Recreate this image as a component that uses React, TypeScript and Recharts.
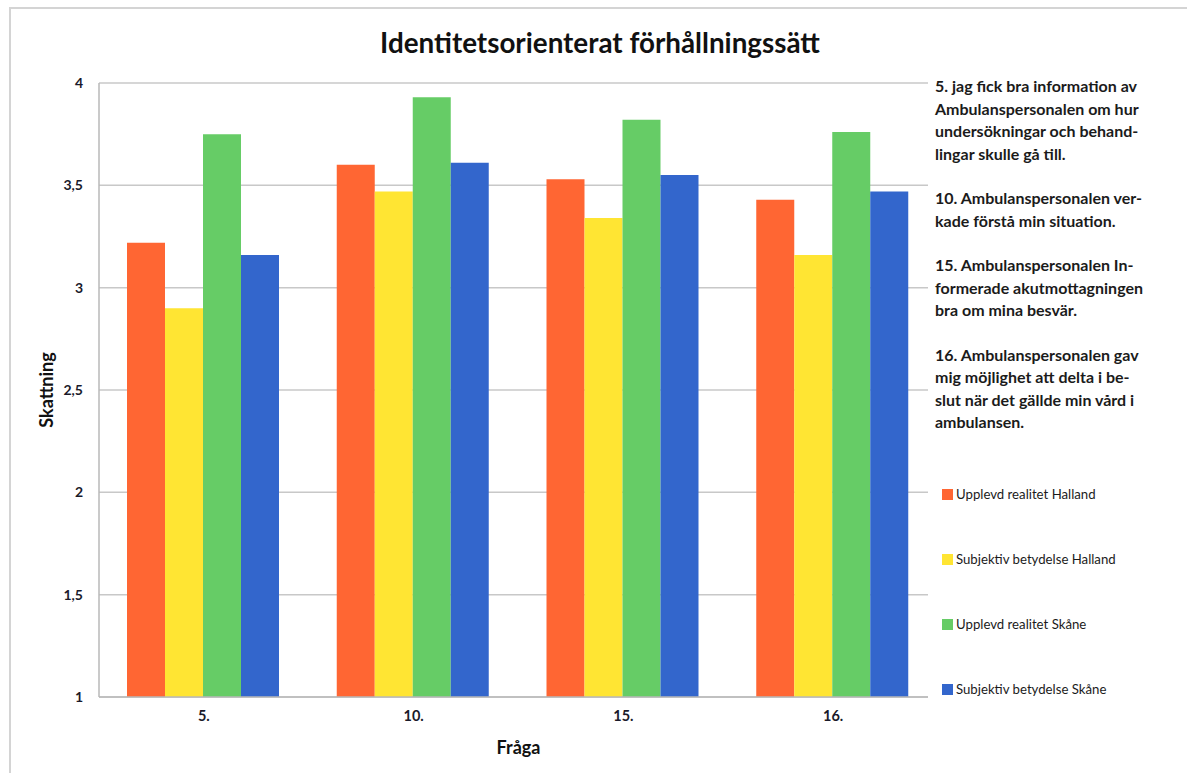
import React from "react";
import { BarChart, Bar, XAxis, YAxis, CartesianGrid, Legend, Label } from "recharts";

const questions = ["5.", "10.", "15.", "16."];
const upplevdHalland = [3.22, 3.6, 3.53, 3.43];
const subjektivHalland = [2.9, 3.47, 3.34, 3.16];
const upplevdSkane = [3.75, 3.93, 3.82, 3.76];
const subjektivSkane = [3.16, 3.61, 3.55, 3.47];
const yTicks = [1, 1.5, 2, 2.5, 3, 3.5, 4];

const seriesNames = [
  "Upplevd realitet Halland",
  "Subjektiv betydelse Halland",
  "Upplevd realitet Skåne",
  "Subjektiv betydelse Skåne",
];
const seriesColors = ["#FF6633", "#FFE533", "#66CC66", "#3366CC"];

const descriptions = [
  ["5. jag fick bra information av", "Ambulanspersonalen om hur", "undersökningar och behand-", "lingar skulle gå till."],
  ["10. Ambulanspersonalen ver-", "kade förstå min situation."],
  ["15. Ambulanspersonalen In-", "formerade akutmottagningen", "bra om mina besvär."],
  ["16. Ambulanspersonalen gav", "mig möjlighet att delta i be-", "slut när det gällde min vård i", "ambulansen."],
];

const data = questions.map((q, i) => ({
  q,
  a: upplevdHalland[i],
  b: subjektivHalland[i],
  c: upplevdSkane[i],
  d: subjektivSkane[i],
}));

const FONT = "Lato, 'Open Sans', sans-serif";

const renderLegend = (props: any) => {
  const payload = [...(props.payload || [])].sort(
    (x: any, y: any) => seriesNames.indexOf(x.value) - seriesNames.indexOf(y.value)
  );
  return (
    <div style={{ fontFamily: FONT, color: "#1b1b1b", background: "#fff", width: 255, height: 640, position: "relative" }}>
      <div style={{ paddingLeft: 7, paddingTop: 3 }}>
        {descriptions.map((lines, i) => (
          <div key={i} style={{ fontWeight: 700, fontSize: 16, lineHeight: "22.5px", marginBottom: 22 }}>
            {lines.map((l, j) => (
              <div key={j} style={{ whiteSpace: "nowrap" }}>{l}</div>
            ))}
          </div>
        ))}
      </div>
      {payload.map((p: any, i: number) => (
        <div
          key={i}
          style={{
            position: "absolute",
            left: 14,
            top: 414 + i * 65,
            display: "flex",
            alignItems: "center",
            fontSize: 13.2,
            whiteSpace: "nowrap",
          }}
        >
          <span style={{ display: "inline-block", width: 11, height: 11, background: p.color, marginRight: 3 }} />
          <span>{p.value}</span>
        </div>
      ))}
    </div>
  );
};

export default function App() {
  return (
    <div style={{ position: "absolute", left: 0, top: 0, width: 1187, height: 773, background: "#fff" }}>
      <div
        style={{
          position: "absolute",
          left: 9,
          top: 7,
          width: 1180,
          height: 770,
          borderLeft: "2px solid #d4d4d4",
          borderTop: "2px solid #d4d4d4",
        }}
      />
      <div
        style={{
          position: "absolute",
          left: 0,
          top: 26,
          width: 1200,
          textAlign: "center",
          fontFamily: FONT,
          fontWeight: 700,
          fontSize: 27.8,
          lineHeight: "34px",
          color: "#111",
        }}
      >
        Identitetsorienterat förhållningssätt
      </div>
      <div style={{ position: "absolute", left: 0, top: 0 }}>
        <BarChart
          width={1187}
          height={773}
          data={data}
          margin={{ top: 83, right: 249, bottom: 46, left: 20 }}
          barCategoryGap={28}
          barGap={0}
        >
          <CartesianGrid vertical={false} stroke="#c8c8c8" strokeWidth={1.5} />
          <XAxis
            dataKey="q"
            height={30}
            tickLine={false}
            tickSize={0}
            tickMargin={14}
            axisLine={{ stroke: "#b8b8b8", strokeWidth: 1.5 }}
            tick={{ fill: "#1a1a2a", fontSize: 14.5, fontFamily: FONT, fontWeight: 700 }}
          >
            <Label
              value="Fråga"
              position="insideBottom"
              offset={-27}
              style={{ fill: "#111", fontSize: 18, fontFamily: FONT, fontWeight: 700 }}
            />
          </XAxis>
          <YAxis
            width={79}
            domain={[1, 4]}
            ticks={yTicks}
            interval={0}
            tickLine={false}
            tickSize={0}
            tickMargin={16}
            axisLine={{ stroke: "#b8b8b8", strokeWidth: 1.5 }}
            tickFormatter={(v: number) => String(v).replace(".", ",")}
            tick={{ fill: "#1a1a2a", fontSize: 14, fontFamily: FONT, fontWeight: 700 }}
          >
            <Label
              value="Skattning"
              angle={-90}
              position="insideLeft"
              offset={27}
              style={{ fill: "#111", fontSize: 18, fontFamily: FONT, fontWeight: 700, textAnchor: "middle" }}
            />
          </YAxis>
          <Legend
            layout="vertical"
            align="center"
            verticalAlign="middle"
            content={renderLegend}
            wrapperStyle={{ left: 928, top: 72, width: 255, height: 640 }}
          />
          <Bar dataKey="a" name={seriesNames[0]} fill={seriesColors[0]} isAnimationActive={false} />
          <Bar dataKey="b" name={seriesNames[1]} fill={seriesColors[1]} isAnimationActive={false} />
          <Bar dataKey="c" name={seriesNames[2]} fill={seriesColors[2]} isAnimationActive={false} />
          <Bar dataKey="d" name={seriesNames[3]} fill={seriesColors[3]} isAnimationActive={false} />
        </BarChart>
      </div>
    </div>
  );
}
